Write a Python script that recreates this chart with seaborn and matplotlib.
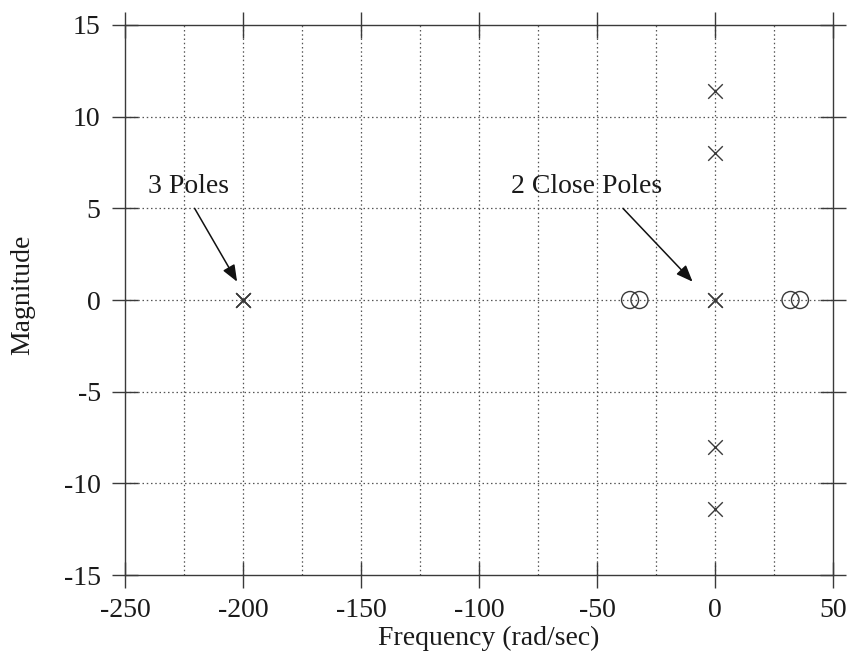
import matplotlib
matplotlib.use("Agg")
import matplotlib.pyplot as plt
import seaborn as sns
import pandas as pd

# Pole and zero locations (real part, imaginary part)
pole_re = [-200, -200, -200, 0, 0, 0, 0, 0, 0]
pole_im = [0, 0, 0, 11.4, 8.0, 0, 0, -8.0, -11.4]
zero_re = [-36, -32, 32, 36]
zero_im = [0, 0, 0, 0]

x_ticks = [-250, -200, -150, -100, -50, 0, 50]
y_ticks = [-15, -10, -5, 0, 5, 10, 15]
x_grid = [-225, -200, -175, -150, -125, -100, -75, -50, -25, 0, 25]
y_grid = [-10, -5, 0, 5, 10]

poles = pd.DataFrame({"re": pole_re, "im": pole_im})
zeros = pd.DataFrame({"re": zero_re, "im": zero_im})

sns.set_style("white")
plt.rcParams["font.family"] = ["Liberation Serif", "DejaVu Serif"]

fig = plt.figure(figsize=(8.52, 6.72), dpi=100)
ax = fig.add_axes([0.1467, 0.1443, 0.8310, 0.8185])

ink = "#3a3a3a"
txt = "#1a1a1a"
fs = 20

# dotted grid
for gx in x_grid:
    ax.axvline(gx, color="#555555", lw=0.9, ls=(0, (1.2, 2.2)), zorder=0)
for gy in y_grid:
    ax.axhline(gy, color="#555555", lw=0.9, ls=(0, (1.2, 2.2)), zorder=0)

sns.scatterplot(data=poles, x="re", y="im", marker="x", s=110,
                color=ink, linewidth=1.0, ax=ax, zorder=3)
sns.scatterplot(data=zeros, x="re", y="im", marker="o", s=150,
                facecolors="none", edgecolor=ink, linewidth=1.0, ax=ax, zorder=3)

ax.set_xlim(-250, 50)
ax.set_ylim(-15, 15)
ax.set_xticks(x_ticks)
ax.set_yticks(y_ticks)
ax.set_xticklabels([str(v) for v in x_ticks])
ax.set_yticklabels([str(v) for v in y_ticks])

for sp in ax.spines.values():
    sp.set_color(ink)
    sp.set_linewidth(1.0)
ax.tick_params(direction="inout", length=19, width=1.0, color=ink,
               bottom=True, left=True, top=True, right=True,
               labelsize=fs, labelcolor=txt)
ax.tick_params(axis="x", pad=7)
ax.tick_params(axis="y", pad=8)

ax.set_xlabel("Frequency (rad/sec)", fontsize=fs, color=txt)
ax.set_ylabel("Magnitude", fontsize=fs, color=txt)
ax.xaxis.set_label_coords(0.513, -0.092)
ax.yaxis.set_label_coords(-0.127, 0.51)

arrow = dict(arrowstyle="-|>,head_length=1.0,head_width=0.4", color="#111111",
             lw=1.1, shrinkA=0, shrinkB=0)
ax.annotate("", xy=(-202.5, 1.0), xytext=(-220.5, 5.0), arrowprops=arrow)
ax.annotate("", xy=(-9.5, 1.0), xytext=(-39, 5.0), arrowprops=arrow)
ax.text(-223, 6.2, "3 Poles", fontsize=fs, ha="center", va="center", color=txt)
ax.text(-54.5, 6.2, "2 Close Poles", fontsize=fs, ha="center", va="center", color=txt)

fig.savefig("out.png", dpi=100)
